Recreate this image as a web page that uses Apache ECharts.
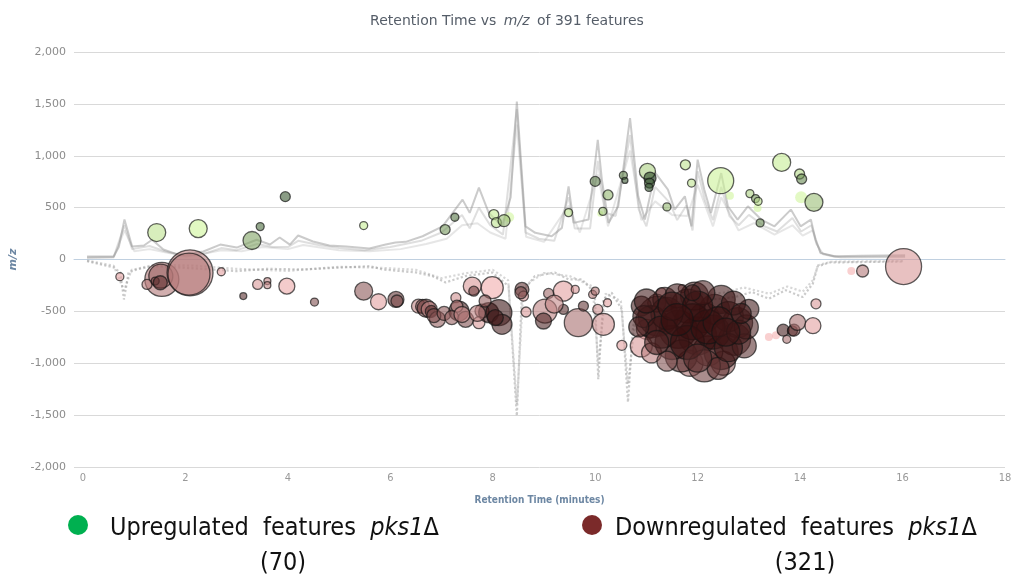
<!DOCTYPE html>
<html><head><meta charset="utf-8">
<script src="https://cdn.jsdelivr.net/npm/echarts@6/dist/echarts.min.js"></script>
<style>html,body{margin:0;padding:0;background:#fff}#c{width:1017px;height:583px}</style>
</head><body><div id="c"></div>
<script>
// ---------- DATA ----------
const xTicks = [0,2,4,6,8,10,12,14,16,18];
const yTicks = [-2000,-1500,-1000,-500,0,500,1000,1500,2000];
const upCount = 70, downCount = 321, totalCount = 391;

// chromatogram traces [retention time, intensity as m/z-scaled]
const traceUpperA = [[0.08,30],[0.6,30],[0.7,120],[0.81,385],[0.96,125],[1.19,135],[1.35,190],[1.57,96],[1.9,40],[2.35,77],[2.68,144],[3.0,115],[3.39,190],[3.65,144],[3.84,212],[4.04,144],[4.2,231],[4.49,173],[4.81,135],[5.14,125],[5.59,106],[5.91,144],[6.1,163],[6.3,170],[6.63,224],[7.02,320],[7.41,577],[7.55,450],[7.73,692],[7.92,452],[8.18,320],[8.35,600],[8.47,1522],[8.64,320],[8.83,257],[9.15,224],[9.35,305],[9.48,705],[9.58,353],[9.87,385],[10.05,1154],[10.13,770],[10.26,353],[10.45,513],[10.68,1362],[10.84,609],[10.97,385],[11.17,837],[11.42,673],[11.55,481],[11.75,609],[11.88,320],[12.0,962],[12.13,673],[12.26,449],[12.46,833],[12.59,513],[12.78,385],[12.98,513],[13.24,385],[13.5,320],[13.82,481],[14.01,320],[14.21,385],[14.3,192],[14.4,64],[14.66,32],[15.2,35],[16.05,40]];
const traceUpperB = [[0.08,20],[0.6,25],[0.81,330],[0.96,100],[1.3,130],[1.6,80],[2.0,30],[2.4,60],[2.7,110],[3.0,90],[3.4,150],[3.7,120],[4.0,120],[4.2,180],[4.6,140],[5.0,110],[5.5,90],[6.0,120],[6.6,180],[7.0,260],[7.4,430],[7.55,300],[7.73,500],[7.95,330],[8.2,240],[8.47,1450],[8.64,260],[8.9,200],[9.2,180],[9.48,600],[9.6,300],[9.9,300],[10.05,950],[10.2,450],[10.4,420],[10.68,1200],[10.85,480],[11.0,320],[11.17,700],[11.45,550],[11.6,380],[11.78,520],[11.9,280],[12.0,850],[12.15,560],[12.3,380],[12.46,700],[12.62,420],[12.8,330],[13.0,430],[13.3,320],[13.55,270],[13.85,400],[14.02,270],[14.22,330],[14.32,150],[14.45,50],[14.7,25],[16.05,30]];
const traceUpperC = [[0.08,15],[0.6,20],[0.81,280],[1.0,80],[1.3,100],[1.7,60],[2.2,40],[2.7,90],[3.1,80],[3.5,120],[4.0,100],[4.3,140],[5.0,90],[5.6,80],[6.2,100],[6.7,150],[7.1,200],[7.4,330],[7.7,350],[7.95,260],[8.25,200],[8.47,1300],[8.65,220],[9.0,170],[9.48,520],[9.7,260],[10.05,820],[10.25,320],[10.68,1050],[10.9,380],[11.17,560],[11.5,430],[11.8,420],[12.0,720],[12.3,320],[12.46,600],[12.8,280],[13.1,350],[13.5,240],[13.85,330],[14.05,230],[14.25,280],[14.4,60],[14.8,20],[16.05,25]];
const traceLowerA = [[0.08,-16],[0.6,-77],[0.73,-125],[0.8,-385],[0.89,-125],[1.05,-96],[1.38,-64],[2.0,-80],[3.0,-112],[3.6,-90],[4.3,-96],[4.94,-80],[5.6,-64],[5.85,-96],[6.5,-125],[6.82,-160],[7.08,-221],[7.46,-160],[7.99,-125],[8.31,-257],[8.47,-1507],[8.57,-320],[8.82,-160],[9.21,-125],[9.48,-192],[9.74,-192],[9.99,-320],[10.06,-1154],[10.16,-385],[10.32,-320],[10.52,-481],[10.64,-1375],[10.74,-641],[10.84,-449],[11.3,-420],[12.0,-400],[12.73,-362],[13.06,-313],[13.39,-378],[13.72,-296],[14.05,-362],[14.25,-231],[14.34,-67],[14.57,-29],[16.02,-19]];
const traceLowerB = [[0.08,-10],[0.6,-60],[0.8,-300],[0.95,-100],[1.4,-50],[2.2,-60],[3.0,-90],[4.0,-110],[5.0,-70],[5.8,-80],[6.5,-100],[7.0,-180],[7.5,-130],[8.0,-100],[8.3,-200],[8.47,-1400],[8.6,-260],[9.0,-130],[9.5,-160],[9.95,-260],[10.06,-1000],[10.2,-330],[10.5,-400],[10.64,-1200],[10.8,-500],[11.5,-350],[12.5,-320],[12.9,-270],[13.4,-330],[13.75,-260],[14.05,-310],[14.25,-200],[14.35,-55],[14.6,-22],[16.02,-15]];

// upregulated features [retention time, m/z, abundance, fold-change shade 0..1]
const upFeatures = [[1.44,260,81,0.1],[2.25,298,81,0.0],[3.30,183,81,0.45],[3.46,317,16,0.75],[3.95,606,25,0.85],[5.48,327,16,0.05],[7.07,288,25,0.5],[7.26,407,16,0.7],[8.02,433,25,0.05],[8.07,356,25,0.1],[8.22,375,36,0.3],[9.48,452,16,0.1],[10.00,753,25,0.65],[10.25,622,25,0.35],[10.15,464,16,0.25],[10.55,811,16,0.6],[10.58,762,9,0.85],[11.02,849,64,0.2],[11.07,785,36,0.95],[11.06,737,25,0.85],[11.05,695,16,0.9],[11.76,913,25,0.1],[11.88,737,16,0.1],[11.40,507,16,0.35],[12.45,760,169,0.02],[13.02,635,16,0.2],[13.13,587,16,0.5],[13.18,561,16,0.15],[13.22,353,16,0.6],[13.64,936,81,0.05],[13.99,824,25,0.15],[14.03,776,25,0.6],[14.27,551,81,0.3]];
const upFeaturesLow = [[8.32,407,25],[10.10,442,9],[12.63,615,16],[14.02,599,36],[13.17,497,16]];

// downregulated features [retention time, m/z, abundance, fold-change shade 0..1]
const downFeatures = [[0.72,-166,16,0.1],[1.54,-192,289,0.35],[1.52,-160,144,0.45],[2.09,-128,529,0.3],[2.07,-140,441,0.32],[1.25,-240,25,0.3],[1.41,-208,16,0.7],[1.51,-224,49,0.75],[2.70,-118,16,0.1],[3.13,-353,12,0.8],[3.41,-240,25,0.15],[3.60,-208,12,0.25],[3.60,-247,12,0.25],[3.98,-257,64,0.05],[4.52,-410,16,0.6],[5.48,-305,81,0.55],[5.77,-407,64,0.1],[6.11,-385,64,0.75],[6.13,-400,36,0.6],
[6.55,-450,49,0.3],[6.63,-452,49,0.5],[6.70,-470,81,0.7],[6.76,-481,64,0.25],[6.80,-500,36,0.8],[6.92,-577,64,0.5],[6.85,-540,49,0.6],[7.05,-520,49,0.55],[7.28,-368,25,0.2],[7.34,-497,100,0.85],[7.30,-450,36,0.3],[7.20,-560,49,0.5],[7.47,-577,64,0.6],[7.40,-530,64,0.2],[7.60,-257,81,0.15],[7.63,-305,25,0.7],[7.99,-272,121,0.02],[7.79,-497,49,0.4],[7.73,-609,36,0.15],[7.92,-512,100,0.95],[7.70,-520,64,0.3],[8.12,-512,169,0.95],[8.18,-625,100,0.85],[8.05,-560,64,0.9],[7.85,-400,36,0.5],[8.57,-288,49,0.75],[8.60,-353,25,0.2],[8.65,-506,25,0.15],[8.55,-320,36,0.6],[9.09,-327,25,0.45],[9.38,-305,100,0.1],[9.61,-288,16,0.15],[9.02,-497,144,0.3],[8.99,-593,64,0.85],[9.38,-481,25,0.8],[9.67,-609,196,0.4],[9.20,-430,81,0.25],[9.77,-449,25,0.75],[9.95,-337,16,0.3],[10.00,-305,16,0.35],[10.05,-481,25,0.2],[10.16,-625,121,0.2],[10.24,-417,16,0.1],[10.52,-827,25,0.1],
[11.00,-673,100,0.2],[10.90,-833,121,0.15],[11.29,-320,25,0.2],[11.70,-280,16,0.3],[11.20,-420,81,0.3],[11.10,-900,100,0.3],[11.85,-1000,169,0.4],[12.50,-1000,144,0.5],[12.20,-880,225,0.6],
[11.23,-545,400,0.9],[11.62,-673,361,0.9],[12.13,-561,225,0.85],[12.00,-737,361,0.95],[12.72,-769,256,0.9],[11.68,-930,256,0.85],[12.33,-481,225,0.9],[12.46,-897,289,0.95],[11.36,-385,144,0.85],[10.90,-449,100,0.9],[12.78,-609,225,0.9],[11.81,-449,289,0.95],[12.91,-833,144,0.8],[12.13,-1026,256,0.7],[12.46,-385,196,0.9],[11.94,-353,196,0.9],[11.10,-600,256,0.95],[11.50,-800,289,0.9],[11.90,-600,324,0.97],[12.30,-700,289,0.95],[12.60,-550,225,0.9],[11.40,-520,256,0.92],[10.95,-550,121,0.85],[12.95,-650,144,0.85],[13.00,-480,100,0.9],[11.60,-350,144,0.9],[12.10,-320,144,0.85],[12.70,-420,144,0.9],[12.40,-1050,121,0.75],[11.40,-980,100,0.6],
[11.00,-400,144,0.9],[11.30,-700,256,0.92],[11.80,-800,289,0.95],[12.20,-650,289,0.95],[12.60,-850,196,0.9],[12.40,-600,225,0.93],[11.50,-450,196,0.9],[12.00,-450,225,0.95],[11.20,-800,144,0.85],[12.80,-700,144,0.9],[12.00,-950,196,0.8],[11.60,-580,256,0.95],[12.55,-700,196,0.92],[10.85,-650,100,0.85],[11.90,-320,64,0.9],[12.85,-520,100,0.9],
[13.67,-681,36,0.9],[13.74,-769,16,0.4],[13.85,-688,25,0.7],[13.88,-681,36,0.75],[13.95,-606,64,0.4],[14.25,-638,64,0.1],[14.31,-427,25,0.15],[15.22,-111,36,0.35],[16.02,-68,324,0.15]];
const downFeaturesLow = [[13.39,-746,16],[13.53,-731,16],[15.0,-111,16]];

// ---------- CHART ----------
function mix(a,b,t){return 'rgba('+a.map((v,i)=>Math.round(v+(b[i]-v)*t)).join(',')+',0.72)';}
const GREEN_L=[205,245,150], GREEN_D=[25,55,25];
const RED_L=[245,172,172], RED_D=[45,8,8];
const sizeOf = v => 2*Math.sqrt(v[2]);
const fontUI = "'DejaVu Sans','Open Sans',sans-serif";
const fontNarrow = "'Liberation Sans Narrow','DejaVu Sans Condensed','Liberation Sans',sans-serif";

const lineSeries = (data, dotted, op) => ({
  type:'line', data, symbol:'none', silent:true, z:1, smooth:false,
  lineStyle:{color:'rgba(140,140,140,'+op+')', width: dotted?2.2:2, type: dotted?'dotted':'solid'}
});
const bubble = (data, L, D, name) => ({
  type:'scatter', name, data, z:3, symbolSize:sizeOf,
  itemStyle:{color:p=>mix(L,D,p.data[3]), borderColor:'rgba(20,20,20,0.85)', borderWidth:1.3}
});
const faint = (data, L, name) => ({
  type:'scatter', name, data, z:2, symbolSize:sizeOf,
  itemStyle:{color:'rgba('+L.join(',')+',0.7)', borderWidth:0}
});

const chart = echarts.init(document.getElementById('c'), null, {renderer:'canvas'});
chart.setOption({
  animation:false,
  backgroundColor:'#fff',
  title:{
    text:'{a|Retention Time vs }{b|m/z}{a| of '+totalCount+' features}',
    left:502, top:9, textAlign:'center',
    textStyle:{fontWeight:'normal', rich:{
      a:{fontFamily:fontUI,fontSize:14,fontWeight:'normal',color:'#555d68'},
      b:{fontFamily:fontUI,fontSize:14,fontWeight:'normal',color:'#555d68',fontStyle:'italic',padding:[0,3,0,3]}
    }}
  },
  grid:{left:70, right:12, top:52, bottom:116, containLabel:false},
  xAxis:{
    type:'value', min:-0.175, max:18,
    name:'Retention Time (minutes)', nameLocation:'middle', nameGap:28,
    nameTextStyle:{fontFamily:fontNarrow, fontSize:10, fontWeight:'bold', color:'#6d87a3'},
    axisLine:{show:true, lineStyle:{color:'#c0d0e0'}},
    axisTick:{show:false},
    splitLine:{show:false},
    axisLabel:{customValues:xTicks, fontFamily:fontNarrow, fontSize:11, color:'#999', margin:6}
  },
  yAxis:{
    type:'value', min:-2000, max:2000, interval:500,
    name:'m/z', nameLocation:'middle', nameGap:55, nameRotate:90,
    nameTextStyle:{fontFamily:fontUI, fontSize:11, fontWeight:'bold', fontStyle:'italic', color:'#6d87a3'},
    axisLine:{show:false}, axisTick:{show:false},
    splitLine:{lineStyle:{color:'#d9d9d9', width:1}},
    axisLabel:{fontFamily:fontUI, fontSize:11, color:'#8c8c8c', margin:8,
      formatter:v=>v.toLocaleString('en-US')}
  },
  series:[
    lineSeries(traceUpperC,false,0.22),
    lineSeries(traceUpperB,false,0.28),
    lineSeries(traceUpperA,false,0.45),
    lineSeries(traceLowerB,true,0.35),
    lineSeries(traceLowerA,true,0.45),
    faint(upFeaturesLow, GREEN_L, 'Upregulated (low)'),
    faint(downFeaturesLow, RED_L, 'Downregulated (low)'),
    bubble(upFeatures, GREEN_L, GREEN_D, 'Upregulated features'),
    bubble(downFeatures, RED_L, RED_D, 'Downregulated features')
  ],
  graphic:[
    {type:'circle', shape:{cx:78, cy:525, r:10}, style:{fill:'#00b050'}},
    {type:'text', x:110, y:528, style:{
      text:'{n|Upregulated  features  }{i|pks1}{n|Δ}', verticalAlign:'middle',
      rich:{n:{fontFamily:fontNarrow,fontSize:25,fill:'#111'}, i:{fontFamily:fontNarrow,fontSize:25,fontStyle:'italic',fill:'#111'}}}},
    {type:'text', x:283, y:563, style:{text:'('+upCount+')', align:'center', verticalAlign:'middle', fontFamily:fontNarrow, fontSize:25, fill:'#111'}},
    {type:'circle', shape:{cx:592, cy:525, r:10}, style:{fill:'#7b2a2a'}},
    {type:'text', x:615, y:528, style:{
      text:'{n|Downregulated  features  }{i|pks1}{n|Δ}', verticalAlign:'middle',
      rich:{n:{fontFamily:fontNarrow,fontSize:25,fill:'#111'}, i:{fontFamily:fontNarrow,fontSize:25,fontStyle:'italic',fill:'#111'}}}},
    {type:'text', x:805, y:563, style:{text:'('+downCount+')', align:'center', verticalAlign:'middle', fontFamily:fontNarrow, fontSize:25, fill:'#111'}}
  ]
});
</script>
</body></html>
